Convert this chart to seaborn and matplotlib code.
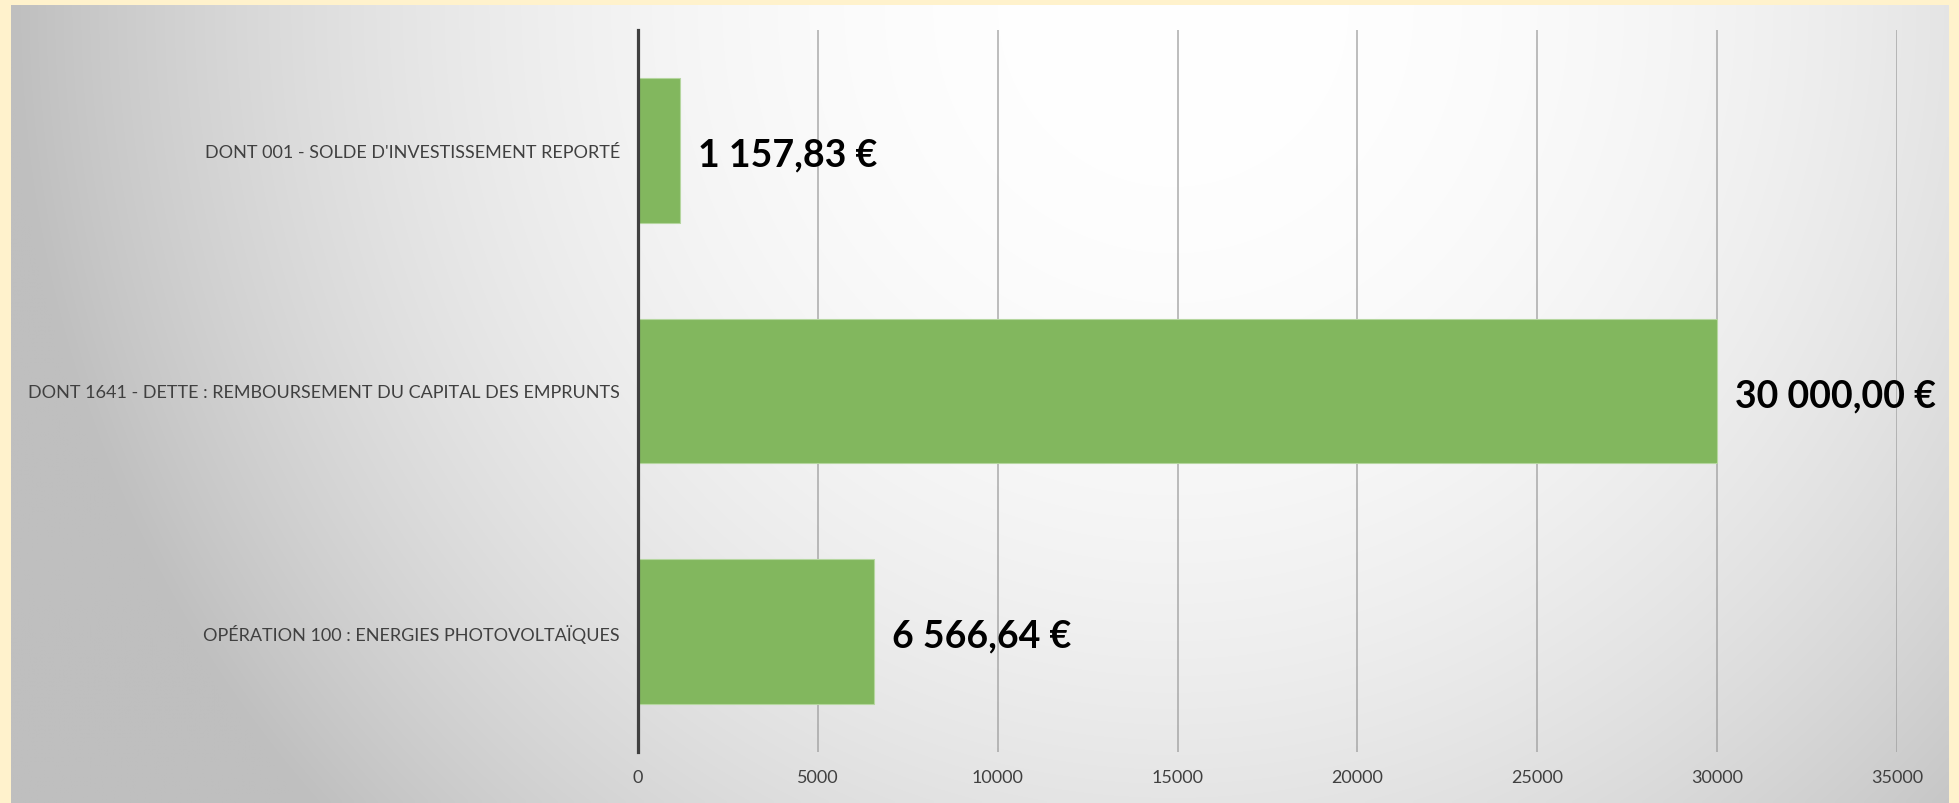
import numpy as np
import pandas as pd
import seaborn as sns
import matplotlib.pyplot as plt

# data
categories = [
    "DONT 001 - SOLDE D'INVESTISSEMENT REPORTÉ",
    "DONT 1641 - DETTE : REMBOURSEMENT DU CAPITAL DES EMPRUNTS",
    "OPÉRATION 100 : ENERGIES PHOTOVOLTAÏQUES",
]
values = [1157.83, 30000.00, 6566.64]
x_ticks = [0, 5000, 10000, 15000, 20000, 25000, 30000, 35000]


def euro(v):
    # french style: thousands with a space, comma decimal
    s = "{:,.2f}".format(v)
    s = s.replace(",", " ").replace(".", ",")
    return s + " €"


df = pd.DataFrame({"poste": categories, "montant": values})

sns.set_theme(style="white")
plt.rcParams['font.family'] = ['Lato', 'DejaVu Sans']

W, H = 1959, 804
fig = plt.figure(figsize=(W / 100, H / 100), dpi=100)
fig.patch.set_facecolor('#fff2cc')

# grey panel with radial gradient
bg = fig.add_axes([11 / W, 0, (1949 - 11) / W, (804 - 6) / H], zorder=-5)
ny, nx = 200, 500
yy, xx = np.mgrid[0:1:ny * 1j, 0:1:nx * 1j]
r = np.sqrt(((xx - 0.6) / 0.6) ** 2 + (yy / 1.5) ** 2)
shade = 255 - 64 * np.clip(r, 0, 1) ** 2.2
img = np.dstack([shade, shade, shade]) / 255.0
bg.imshow(img, aspect='auto', origin='upper', extent=[0, 1, 0, 1], interpolation='bilinear')
bg.set_axis_off()

ax = fig.add_axes([638 / W, 1 - 753 / H, (1897 - 638) / W, (753 - 31) / H])
ax.set_facecolor('none')

sns.barplot(data=df, y="poste", x="montant", orient="h", color="#82b75e",
            saturation=1, width=0.6, edgecolor='#b5d69f', linewidth=0.8,
            ax=ax, zorder=3)

labels = ax.bar_label(ax.containers[0], labels=[euro(v) for v in values], padding=13,
                      fontsize=27, fontweight='bold', color='black')
for t in labels:
    # a touch lower than the bar centre, as in the original
    t.xyann = (13, -3)

ax.set_xlim(0, 35000)
ax.set_xticks(x_ticks)
ax.set_xticklabels([str(t) for t in x_ticks])
ax.set_ylim(2.5, -0.5)
ax.set_xlabel("")
ax.set_ylabel("")

ax.grid(axis='x', color='#9a9a9a', linewidth=1.3, alpha=0.7, zorder=0)
ax.set_axisbelow(True)

for s in ['top', 'right', 'bottom']:
    ax.spines[s].set_visible(False)
ax.spines['left'].set_color('#404040')
ax.spines['left'].set_linewidth(2.3)
ax.spines['left'].set_zorder(5)

ax.tick_params(axis='x', length=0, pad=12, labelsize=13, labelcolor='#404040')
ax.tick_params(axis='y', length=0, pad=13, labelsize=13, labelcolor='#404040')

fig.savefig("out.png", dpi=100, facecolor=fig.get_facecolor())
